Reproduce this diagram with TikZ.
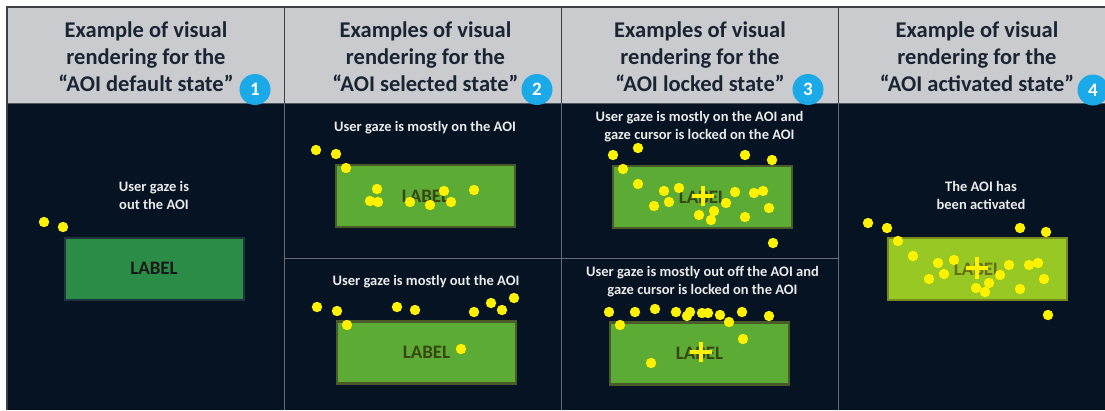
\documentclass[tikz,border=0pt]{standalone}
\usepackage{fontspec}
\setmainfont{Carlito}
\definecolor{bg}{HTML}{061322}
\definecolor{head}{HTML}{C9CBCF}
\definecolor{headtxt}{HTML}{1B2433}
\definecolor{frame}{HTML}{3C3F44}
\definecolor{grid}{HTML}{646B76}
\definecolor{badge}{HTML}{1BA9E8}
\definecolor{gaze}{HTML}{FFF200}
\definecolor{gDef}{HTML}{2B8C47}
\definecolor{gDefLine}{HTML}{1E3540}
\definecolor{gSel}{HTML}{5CAB35}
\definecolor{gSelLine}{HTML}{4A5A28}
\definecolor{gSelTxt}{HTML}{3A4610}
\definecolor{gAct}{HTML}{97C824}
\definecolor{gActLine}{HTML}{7B8A1E}
\definecolor{gActTxt}{HTML}{6A6E12}
\tikzset{
  headtext/.style={font=\bfseries\fontsize{22.5}{27}\selectfont, text=headtxt, align=center, inner sep=0},
  note/.style={font=\bfseries\fontsize{14.5}{18}\selectfont, text=white!92!black, align=center, inner sep=0},
  numbadge/.style={circle, fill=badge, minimum size=31pt, inner sep=0, text=white, font=\bfseries\fontsize{19}{19}\selectfont},
  aoibox/.style={rectangle, inner sep=0, minimum width=179pt, minimum height=62pt, font=\bfseries\fontsize{19}{19}\selectfont},
  aoidef/.style={aoibox, fill=gDef, draw=gDefLine, line width=2pt, text=black!90},
  aoisel/.style={aoibox, fill=gSel, draw=gSelLine, line width=2.5pt, text=gSelTxt},
  aoiact/.style={aoibox, fill=gAct, draw=gActLine, line width=2.5pt, text=gActTxt},
  cursor/.style={draw=gaze, line width=4pt},
}
\newcommand{\gazedots}[1]{\foreach \gx/\gy in {#1} \fill[gaze] (\gx,\gy) circle (5.2pt);}
\begin{document}
\begin{tikzpicture}[x=1pt, y=-1pt]
\useasboundingbox (0,0) rectangle (1105,410);
\fill[white] (0,0) rectangle (1105,410);
% table body and header band
\fill[head] (7,7) rectangle (1105,103);
\fill[bg] (7,103) rectangle (1105,410);
% grid lines
\draw[grid, line width=1pt] (284,103) -- (284,410) (561,103) -- (561,410) (838,103) -- (838,410);
\draw[grid, line width=1pt] (284,258) -- (838,258);
\draw[frame, line width=1pt] (284,7) -- (284,103) (561,7) -- (561,103) (838,7) -- (838,103);
\draw[grid!80!black, line width=1pt] (7,103) -- (1105,103);
\draw[frame, line width=1.2pt] (1105,7) -- (7,7) -- (7,410);

% column headings
\node[headtext] (h1) at (146,57) {Example of visual\\rendering for the\\“AOI default state”};
\node[headtext] (h2) at (425.5,57) {Examples of visual\\rendering for the\\“AOI selected state”};
\node[headtext] (h3) at (700,57) {Examples of visual\\rendering for the\\“AOI locked state”};
\node[headtext] (h4) at (977,57) {Example of visual\\rendering for the\\“AOI activated state”};
\node[numbadge] (b1) at (255,89.5) {1};
\node[numbadge] (b2) at (537,89.5) {2};
\node[numbadge] (b3) at (808,89.5) {3};
\node[numbadge] (b4) at (1093,90) {4};

% state 1: default
\node[note] (n1) at (154,195.5) {User gaze is\\out the AOI};
\node[aoidef] (a1) at (154,268.5) {LABEL};
\gazedots{44/222, 63/227}

% state 2: selected (gaze on / gaze out)
\node[note] (n2a) at (425,128) {User gaze is mostly on the AOI};
\node[aoisel] (a2a) at (425.5,196) {LABEL};
\gazedots{316/150, 336/154, 346/168, 377/189, 370/201, 378/202, 410/202, 430/205, 444/191, 451/202, 474/190}
\node[note] (n2b) at (426,282) {User gaze is mostly out the AOI};
\node[aoisel] (a2b) at (426.5,352.5) {LABEL};
\gazedots{317/307, 337/311, 347/325, 397/307, 415/310, 461/349, 474/312, 491/303, 502/310, 514/298}

% state 3: locked (gaze on / gaze out)
\node[note] (n3a) at (699.5,126.5) {User gaze is mostly on the AOI and\\gaze cursor is locked on the AOI};
\node[aoisel] (a3a) at (702.5,197) {LABEL};
\gazedots{613/155, 638/148, 623/169, 638/184, 664/191, 679/188, 654/206, 669/202, 699/215, 714/211, 711/220, 726/203, 735/192, 745/155, 772/160, 754/193, 763/191, 769/208, 745/217, 773/243}
\draw[cursor] (692,196) -- (714,196) (703,186) -- (703,206);
\node[note] (n3b) at (702.5,282) {User gaze is mostly out off the AOI and\\gaze cursor is locked on the AOI};
\node[aoisel] (a3b) at (699.5,353.5) {LABEL};
\gazedots{609/312, 635/312, 655/309, 676/312, 690/312, 687/316, 702/313, 708/313, 720/315, 729/322, 742/312, 769/316, 620/325, 743/339, 651/363}
\draw[cursor] (690,352) -- (712,352) (701,342) -- (701,362);

% state 4: activated
\node[note] (n4) at (981,195.5) {The AOI has\\been activated};
\node[aoiact] (a4) at (977.5,269) {LABEL};
\gazedots{868/223, 887/228, 898/241, 913/256, 938/263, 954/260, 944/274, 929/279, 976/288, 989/283, 985/292, 1000/275, 1009/265, 1020/228, 1046/232, 1029/265, 1038/263, 1044/279, 1020/289, 1048/315}
\draw[cursor] (966,268) -- (988,268) (977,257) -- (977,279);
\end{tikzpicture}
\end{document}
